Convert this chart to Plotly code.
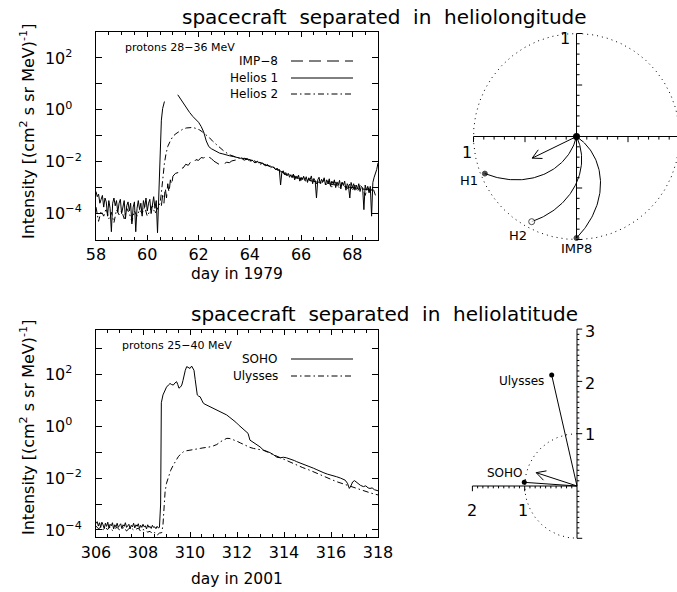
import numpy as np
import plotly.graph_objects as go

FONT = "DejaVu Sans"
W, H = 677, 592

# ------------------------------------------------------------------ data
# ---- 1979 event (protons 28-36 MeV), values are log10(intensity)
h1_bg_step = 0.05
h1_bg_start = 58.0
h1_bg_log = [-3.15, -3.35, -3.25, -3.6, -3.45, -3.3, -3.75, -3.4, -3.55, -4.1,
             -3.5, -3.8, -4.7, -3.6, -3.4, -3.7, -3.5, -3.95, -3.6, -3.45,
             -4.0, -3.65, -3.5, -4.2, -3.7, -3.55, -3.9, -3.6, -4.4, -3.75,
             -3.55, -4.7, -3.8, -3.5, -3.85, -3.6, -4.1, -3.5, -3.75, -3.4,
             -3.9, -3.6, -3.45, -4.0, -3.55, -3.35, -3.8, -3.5, -4.74]
h1_rise_day = [60.45, 60.50, 60.55, 60.60, 60.67]
h1_rise_log = [-3.2, -1.5, -0.4, 0.05, 0.32]
h1_decay_day = [61.19, 61.3, 61.4, 61.52, 61.65, 61.78, 61.9, 62.0, 62.1, 62.2, 62.3,
                62.4, 62.5, 62.6, 62.7, 62.82, 62.95, 63.1, 63.2, 63.35, 63.5, 63.6]
h1_decay_log = [0.58, 0.42, 0.25, 0.06, -0.1, -0.26, -0.38, -0.48, -0.64, -0.85, -1.2,
                -1.42, -1.5, -1.56, -1.6, -1.67, -1.7, -1.75, -1.77, -1.8, -1.84, -1.86]
h1_tail_start = 63.65
h1_tail_step = 0.05
h1_tail_log = [-1.87, -1.85, -1.9, -1.88, -1.92, -1.9, -1.95, -1.93, -1.97, -1.95,
               -2.0, -1.96, -2.02, -2.0, -2.05, -2.03, -2.08, -2.06, -2.12, -2.1,
               -2.15, -2.12, -2.18, -2.16, -2.22, -2.2, -2.25, -2.3, -2.28, -2.35,
               -2.3, -2.9, -2.4, -2.35, -2.5, -2.42, -2.55, -2.45, -2.6, -2.5,
               -2.62, -2.48, -2.7, -2.55, -2.65, -2.52, -2.75, -2.6, -2.68, -2.56,
               -2.72, -2.58, -2.8, -2.62, -2.7, -2.55, -2.85, -2.65, -2.75, -3.4,
               -2.7, -2.6, -2.85, -2.68, -2.78, -2.62, -2.9, -2.7, -2.82, -2.66,
               -2.95, -2.75, -2.85, -2.7, -3.0, -2.78, -2.9, -2.72, -3.05, -2.8,
               -2.92, -2.75, -3.1, -2.85, -2.95, -3.4, -2.8, -3.0, -2.85, -3.1,
               -2.9, -3.05, -2.85, -3.15, -2.95, -3.0, -3.85, -2.9, -3.1, -2.95,
               -3.2, -2.95, -4.1, -2.8, -2.6, -2.45, -2.3, -2.05]

h2_bg_start = 58.0
h2_bg_step = 0.1
h2_bg_log = [-3.75, -4.3, -3.9, -4.1, -3.8, -4.2, -3.95, -4.35, -3.85, -4.05,
             -3.9, -4.2, -3.8, -4.0, -4.3, -3.9, -4.1, -3.85, -4.0, -3.75,
             -4.1, -3.9, -3.7, -4.0, -3.8, -3.6]
h2_rise_day = [60.55, 60.6, 60.67, 60.73, 60.8, 60.9, 61.0, 61.12, 61.25, 61.38, 61.52,
               61.65, 61.78, 61.9, 62.03, 62.15, 62.3, 62.43, 62.56, 62.7, 62.82, 63.0,
               63.2, 63.4, 63.6]
h2_rise_log = [-3.2, -2.6, -2.05, -1.7, -1.41, -1.2, -1.02, -0.92, -0.83, -0.75, -0.7,
               -0.68, -0.68, -0.72, -0.77, -0.85, -0.96, -1.08, -1.22, -1.35, -1.47, -1.6,
               -1.73, -1.8, -1.86]
h2_tail_start = 63.7
h2_tail_step = 0.1
h2_tail_log = [-1.89, -1.94, -1.88, -1.98, -1.95, -2.05, -1.98, -2.1, -2.06, -2.16,
               -2.12, -2.24, -2.15, -2.3, -2.26, -2.42, -2.38, -2.5, -2.44, -2.58,
               -2.5, -2.66, -2.55, -2.72, -2.6, -2.8, -2.66, -2.78, -2.64, -2.86,
               -2.7, -2.84, -2.68, -2.92, -2.74, -2.98, -2.76, -2.9, -3.02, -2.8,
               -2.96, -3.08, -2.86, -3.12, -2.9, -3.15, -2.92, -3.05, -3.3, -2.96,
               -3.2, -3.0, -3.3]

imp8_day = [60.55, 60.6, 60.65, 60.7, 60.75, 60.8, 60.85, 60.9, 60.95,
            61.0, 61.1, 61.2, 61.3, 61.4, 61.5, 61.6, 61.7, 61.8, 61.9,
            62.0, 62.1, 62.2, 62.3, 62.4, 62.5, 62.6, 62.7, 62.8, 62.9,
            63.0, 63.1, 63.2, 63.3, 63.4, 63.5, 63.6, 63.7, 63.8, 63.9,
            64.0, 64.1, 64.2, 64.3, 64.4, 64.5, 64.6, 64.7, 64.8, 64.9,
            65.0, 65.1, 65.2, 65.4, 65.6, 65.8, 66.0, 66.2, 66.4, 66.6,
            66.8, 67.0, 67.2, 67.4, 67.6, 67.8, 68.0, 68.2, 68.4, 68.6, 68.8]
imp8_log = [-3.7, -3.3, -3.6, -3.0, -3.4, -2.85, -3.2, -2.7, -2.9,
            -2.56, -2.45, -2.42, -2.26, -2.24, -2.1, -2.14, -2.0, -2.04, -1.92,
            -1.95, -1.84, -1.86, -1.76, -1.82, -1.88, -1.98, -2.05, -2.1, -2.07,
            -2.08, -2.02, -2.04, -1.97, -1.94, -1.92, -1.9, -1.88, -1.87, -1.9,
            -1.92, -1.95, -1.97, -2.0, -2.03, -2.06, -2.12, -2.15, -2.2, -2.22,
            -2.28, -2.3, -2.36, -2.5, -2.55, -2.62, -2.65, -2.7, -2.72, -2.78,
            -2.8, -2.82, -2.88, -2.9, -2.95, -2.97, -3.0, -3.02, -3.05, -3.08, -3.1]

# ---- 2001 event (protons 25-40 MeV)
soho_bg_start = 306.0
soho_bg_step = 0.05
soho_bg_log = [-3.75, -3.68, -3.85, -3.72, -3.9, -3.7, -3.8, -3.95, -3.74, -3.86,
               -3.7, -3.92, -3.78, -3.84, -3.72, -3.96, -3.8, -3.88, -3.74, -3.9,
               -3.82, -3.76, -3.94, -3.8, -3.86, -3.72, -3.9, -3.84, -3.78, -3.96,
               -3.82, -3.88, -3.74, -3.92, -3.8, -3.86, -3.76, -3.94, -3.82, -3.9,
               -3.78, -3.88, -3.84, -3.96, -3.8, -3.9, -3.86, -3.94, -3.82, -3.9,
               -3.88, -3.95, -3.86, -3.92, -3.9]
soho_day = [308.75, 308.78, 308.85, 308.92, 309.0, 309.08, 309.15, 309.22, 309.29, 309.36,
            309.43, 309.48, 309.53, 309.59, 309.65, 309.7, 309.74, 309.8, 309.86, 309.93,
            310.0, 310.07, 310.12, 310.17, 310.22, 310.26, 310.31, 310.37, 310.43, 310.5,
            310.57, 310.64, 310.71, 310.8, 310.9, 310.99, 311.1, 311.2, 311.28, 311.4,
            311.56, 311.7, 311.84, 311.95, 312.06, 312.2, 312.35, 312.47, 312.55, 312.7,
            312.85, 312.98, 313.12, 313.25, 313.4, 313.55, 313.7, 313.85, 313.97, 314.1,
            314.18, 314.3, 314.45, 314.54, 314.7, 314.85, 315.0, 315.1, 315.25, 315.4,
            315.53, 315.7, 315.85, 316.0, 316.1, 316.24, 316.4, 316.5, 316.6, 316.7,
            316.78, 316.85, 316.92, 317.0, 317.05, 317.15, 317.25, 317.38, 317.48, 317.58,
            317.66, 317.75, 317.85, 318.0]
soho_log = [-3.0, 0.9, 1.2, 1.35, 1.5, 1.58, 1.64, 1.6, 1.58, 1.66,
            1.71, 1.6, 1.46, 1.5, 1.58, 1.75, 1.97, 2.15, 2.29, 2.25,
            2.22, 2.31, 2.25, 2.15, 1.8, 1.46, 1.2, 1.15, 1.13, 1.0,
            0.88, 0.84, 0.81, 0.78, 0.72, 0.68, 0.63, 0.6, 0.56, 0.5,
            0.43, 0.33, 0.24, 0.15, 0.05, -0.07, -0.18, -0.28, -0.54, -0.62,
            -0.72, -0.8, -0.92, -0.96, -1.02, -1.1, -1.2, -1.22, -1.2, -1.22,
            -1.24, -1.28, -1.33, -1.37, -1.42, -1.48, -1.53, -1.56, -1.62, -1.68,
            -1.74, -1.8, -1.85, -1.88, -1.9, -1.95, -2.0, -2.03, -2.08, -2.2,
            -2.4, -2.3, -2.15, -2.1, -2.14, -2.2, -2.28, -2.33, -2.3, -2.38,
            -2.4, -2.38, -2.45, -2.49]

uly_bg_start = 306.0
uly_bg_step = 0.1
uly_bg_log = [-3.85, -3.95, -3.9, -4.0, -3.92, -3.98, -3.88, -4.02, -3.94, -3.9,
              -4.0, -3.96, -3.9, -4.04, -3.95, -3.92, -4.0, -3.97, -3.93, -4.05,
              -3.98, -4.02, -4.08, -4.05, -4.15, -4.1, -4.2, -4.12, -4.1]
uly_day = [308.85, 308.9, 308.94, 309.0, 309.08, 309.18, 309.29, 309.4, 309.5, 309.6,
           309.72, 309.85, 310.0, 310.15, 310.3, 310.43, 310.55, 310.7, 310.85, 311.0,
           311.14, 311.3, 311.43, 311.57, 311.7, 311.85, 311.99, 312.15, 312.3, 312.45,
           312.55, 312.7, 312.85, 313.0, 313.12, 313.3, 313.5, 313.7, 313.9, 314.1,
           314.3, 314.54, 314.8, 315.1, 315.39, 315.7, 316.0, 316.24, 316.5, 316.8,
           317.09, 317.4, 317.7, 318.0]
uly_log = [-3.8, -3.0, -2.53, -2.2, -1.95, -1.7, -1.5, -1.32, -1.18, -1.08,
           -0.99, -0.95, -0.92, -0.9, -0.87, -0.86, -0.84, -0.83, -0.8, -0.76,
           -0.71, -0.6, -0.54, -0.47, -0.48, -0.52, -0.58, -0.65, -0.72, -0.78,
           -0.82, -0.86, -0.88, -0.9, -0.93, -1.0, -1.08, -1.18, -1.26, -1.34,
           -1.4, -1.5, -1.6, -1.7, -1.82, -1.95, -2.05, -2.14, -2.22, -2.32,
           -2.4, -2.5, -2.58, -2.65]

# ---- tick labels
top_x_ticks = [58, 60, 62, 64, 66, 68]
bot_x_ticks = [306, 308, 310, 312, 314, 316, 318]
top_y_minor_exps = [-5, -3, -1, 1, 3]
bot_y_minor_exps = [-3, -1, 1, 3]
labelled_exps = [-4, -2, 0, 2]

# ---- spacecraft geometry (AU)
lon_names = ["H1", "H2", "IMP8"]
lon_x = [-0.89, -0.435, 0.0]
lon_y = [-0.36, -0.827, -0.985]
lon_filled = [True, False, True]
lon_arrow_tip = [-0.43, -0.21]
spiral_wind = 1.0   # radians of winding per AU

lat_names = ["SOHO", "Ulysses"]
lat_x = [-1.008, -0.484]
lat_y = [0.07, 2.12]
lat_arrow_tip = [-0.78, 0.255]


# ------------------------------------------------------------------ helpers
def lg(vals):
    return [None if v is None else 10 ** v for v in vals]


def grid(start, step, n):
    return [round(start + step * i, 3) for i in range(n)]


def arrow_head(tip, length, half_angle_deg):
    d = np.array(tip, float)
    d = d / np.linalg.norm(d)
    xs, ys = [], []
    for s in (1, -1):
        a = np.radians(s * half_angle_deg)
        back = -d
        r = np.array([back[0] * np.cos(a) - back[1] * np.sin(a),
                      back[0] * np.sin(a) + back[1] * np.cos(a)])
        p = np.array(tip) + length * r
        xs += [tip[0], p[0], None]
        ys += [tip[1], p[1], None]
    return xs, ys


fig = go.Figure()
BLACK = "black"
DASHDOT = "6px,3px,1.5px,3px"
LONGDASH = "12px,6px"

# ----------------------------------------------------------- top-left traces
h1_x = grid(h1_bg_start, h1_bg_step, len(h1_bg_log)) + h1_rise_day + [None] + h1_decay_day + \
    grid(h1_tail_start, h1_tail_step, len(h1_tail_log))
h1_y = lg(h1_bg_log + h1_rise_log + [None] + h1_decay_log + h1_tail_log)
h2_x = grid(h2_bg_start, h2_bg_step, len(h2_bg_log)) + h2_rise_day + \
    grid(h2_tail_start, h2_tail_step, len(h2_tail_log))
h2_y = lg(h2_bg_log + h2_rise_log + h2_tail_log)

fig.add_trace(go.Scatter(x=imp8_day, y=lg(imp8_log), mode="lines", name="IMP-8",
                         line=dict(color=BLACK, width=1, dash=LONGDASH), xaxis="x", yaxis="y"))
fig.add_trace(go.Scatter(x=h2_x, y=h2_y, mode="lines", name="Helios 2",
                         line=dict(color=BLACK, width=1, dash=DASHDOT), xaxis="x", yaxis="y"))
fig.add_trace(go.Scatter(x=h1_x, y=h1_y, mode="lines", name="Helios 1", connectgaps=False,
                         line=dict(color=BLACK, width=1), xaxis="x", yaxis="y"))

# -------------------------------------------------------- bottom-left traces
soho_x = grid(soho_bg_start, soho_bg_step, len(soho_bg_log)) + soho_day
soho_y = lg(soho_bg_log + soho_log)
uly_x = grid(uly_bg_start, uly_bg_step, len(uly_bg_log)) + uly_day
uly_y = lg(uly_bg_log + uly_log)
fig.add_trace(go.Scatter(x=uly_x, y=uly_y, mode="lines", name="Ulysses",
                         line=dict(color=BLACK, width=1, dash=DASHDOT), xaxis="x2", yaxis="y2"))
fig.add_trace(go.Scatter(x=soho_x, y=soho_y, mode="lines", name="SOHO",
                         line=dict(color=BLACK, width=1), xaxis="x2", yaxis="y2"))

# ------------------------------------------------ top-right longitude diagram
ax3 = dict(xaxis="x3", yaxis="y3")
fig.add_trace(go.Scatter(x=[-1.0, 1.05, None, 0, 0], y=[0, 0, None, 1.0, -0.985], mode="lines",
                         line=dict(color=BLACK, width=1), **ax3))
tx, ty = [], []
for i in range(-10, 11):
    if i == 0:
        continue
    v = i / 10
    ln = 0.055 if i % 5 == 0 else 0.03
    tx += [0, ln, None]
    ty += [v, v, None]
    tx += [v, v, None]
    ty += [0, -ln, None]
fig.add_trace(go.Scatter(x=tx, y=ty, mode="lines", line=dict(color=BLACK, width=1), **ax3))
th = np.linspace(0, 2 * np.pi, 400)
fig.add_trace(go.Scatter(x=np.cos(th), y=np.sin(th), mode="lines",
                         line=dict(color=BLACK, width=1, dash="1px,4px"), **ax3))
for sx, sy in zip(lon_x, lon_y):
    r_sc = np.hypot(sx, sy)
    phi_sc = np.arctan2(sy, sx)
    rr = np.linspace(0, r_sc, 80)
    ph = phi_sc + spiral_wind * (r_sc - rr)
    fig.add_trace(go.Scatter(x=rr * np.cos(ph), y=rr * np.sin(ph), mode="lines",
                             line=dict(color=BLACK, width=1), **ax3))
hx, hy = arrow_head(lon_arrow_tip, 0.1, 28)
fig.add_trace(go.Scatter(x=[0, lon_arrow_tip[0], None] + hx, y=[0, lon_arrow_tip[1], None] + hy,
                         mode="lines", line=dict(color=BLACK, width=1), **ax3))
fig.add_trace(go.Scatter(x=[0], y=[0], mode="markers", marker=dict(color=BLACK, size=7), **ax3))
fig.add_trace(go.Scatter(
    x=lon_x, y=lon_y, mode="markers",
    marker=dict(size=[5 if f else 6 for f in lon_filled],
                color=[BLACK if f else "white" for f in lon_filled],
                line=dict(color=BLACK, width=1)), **ax3))

# ------------------------------------------------ bottom-right latitude diagram
ax4 = dict(xaxis="x4", yaxis="y4")
fig.add_trace(go.Scatter(x=[-2, 0, None, 0, 0], y=[0, 0, None, -1, 3], mode="lines",
                         line=dict(color=BLACK, width=1), **ax4))
tx, ty = [], []
for i in range(-10, 31):
    if i == 0:
        continue
    v = i / 10
    ln = 0.1 if i % 10 == 0 else 0.045
    tx += [0, ln, None]
    ty += [v, v, None]
for i in range(-20, 0):
    v = i / 10
    ln = 0.1 if i % 10 == 0 else 0.045
    tx += [v, v, None]
    ty += [0, -ln, None]
fig.add_trace(go.Scatter(x=tx, y=ty, mode="lines", line=dict(color=BLACK, width=1), **ax4))
th2 = np.linspace(np.pi / 2, 3 * np.pi / 2, 200)
fig.add_trace(go.Scatter(x=np.cos(th2), y=np.sin(th2), mode="lines",
                         line=dict(color=BLACK, width=1, dash="1px,4px"), **ax4))
lx, ly = [], []
for sx, sy in zip(lat_x, lat_y):
    lx += [0, sx, None]
    ly += [0, sy, None]
hx, hy = arrow_head(lat_arrow_tip, 0.2, 28)
fig.add_trace(go.Scatter(x=lx + [0, lat_arrow_tip[0], None] + hx,
                         y=ly + [0, lat_arrow_tip[1], None] + hy,
                         mode="lines", line=dict(color=BLACK, width=1), **ax4))
fig.add_trace(go.Scatter(x=lat_x, y=lat_y, mode="markers",
                         marker=dict(color=BLACK, size=5), **ax4))


# ------------------------------------------------------------------ axes
def ylabel(e):
    if e < 0:
        return "10<sup>\u2212%d</sup>" % (-e)
    return "10<sup>%d<span style='color:rgba(0,0,0,0)'>\u2212</span></sup>" % e


common = dict(showline=True, linecolor=BLACK, linewidth=1, mirror="allticks",
              ticks="inside", tickcolor=BLACK, tickwidth=1, showgrid=False, zeroline=False,
              automargin=False, tickfont=dict(family=FONT, size=16, color=BLACK))
xl, xr = 96 / W, 378 / W
fig.update_layout(
    width=W, height=H, autosize=False, margin=dict(l=0, r=0, t=0, b=0, pad=0),
    paper_bgcolor="white", plot_bgcolor="white", showlegend=False,
    font=dict(family=FONT, color=BLACK),
    xaxis=dict(domain=[xl, xr], range=[58, 69], tickvals=top_x_ticks, ticklen=5,
               minor=dict(dtick=0.5, ticklen=3, ticks="inside", tickcolor=BLACK),
               ticklabelstandoff=0, anchor="y", **common),
    yaxis=dict(domain=[1 - 239.5 / H, 1 - 32 / H], type="log", range=[-5, 3],
               tickvals=[10.0 ** e for e in labelled_exps],
               ticktext=[ylabel(e) for e in labelled_exps],
               minor=dict(tickvals=[10.0 ** e for e in top_y_minor_exps], ticklen=6,
                          ticks="inside", tickcolor=BLACK),
               ticklen=6, ticklabelstandoff=10, anchor="x", **common),
    xaxis2=dict(domain=[xl, xr], range=[306, 318], tickvals=bot_x_ticks, ticklen=5,
                minor=dict(dtick=0.5, ticklen=3, ticks="inside", tickcolor=BLACK),
                ticklabelstandoff=1, anchor="y2", **common),
    yaxis2=dict(domain=[1 - 537 / H, 1 - 330 / H], type="log", range=[-4.27, 3.7],
                tickvals=[10.0 ** e for e in labelled_exps],
                ticktext=[ylabel(e) for e in labelled_exps],
                minor=dict(tickvals=[10.0 ** e for e in bot_y_minor_exps], ticklen=6,
                           ticks="inside", tickcolor=BLACK),
                ticklen=6, ticklabelstandoff=10, anchor="x2", **common),
    xaxis3=dict(domain=[460 / W, 1.0], range=[(460 - 576.5) / 103, (677 - 576.5) / 103],
                visible=False, anchor="y3"),
    yaxis3=dict(domain=[1 - 265 / H, 1 - 15 / H], range=[(136.5 - 265) / 103, (136.5 - 15) / 103],
                visible=False, anchor="x3"),
    xaxis4=dict(domain=[440 / W, 1.0], range=[(440 - 577) / 52.3, (677 - 577) / 52.3],
                visible=False, anchor="y4"),
    yaxis4=dict(domain=[1 - 570 / H, 1 - 300 / H], range=[(486 - 570) / 52.3, (486 - 300) / 52.3],
                visible=False, anchor="x4"),
)

ann = []


def text(x, y, s, size, xanchor="center", yanchor="middle", xref="paper", yref="paper", angle=0):
    ann.append(dict(x=x, y=y, text=s, showarrow=False, xref=xref, yref=yref,
                    xanchor=xanchor, yanchor=yanchor, textangle=angle,
                    font=dict(family=FONT, size=size, color=BLACK)))


gap = "\u00a0 "
text(384 / W, 1 - 17 / H, gap.join(["spacecraft", "separated", "in", "heliolongitude"]), 20)
text(384 / W, 1 - 314 / H, gap.join(["spacecraft", "separated", "in", "heliolatitude"]), 20)
text(237 / W, 1 - 274 / H, "day in 1979", 15.5)
text(237 / W, 1 - 579 / H, "day in 2001", 15.5)
ytitle = "Intensity [(cm<sup>2</sup> s sr MeV)<sup>-1</sup>]"
text(27 / W, 1 - 132 / H, ytitle, 16, angle=-90)
text(27 / W, 1 - 428 / H, ytitle, 16, angle=-90)

# legends
text(123 / W, 1 - 47 / H, "protons 28\u221236 MeV", 11, xanchor="left")
text(120 / W, 1 - 345 / H, "protons 25\u221240 MeV", 11, xanchor="left")
legend_top = [("IMP\u22128", 61, LONGDASH), ("Helios 1", 78, "solid"), ("Helios 2", 94, DASHDOT)]
legend_bot = [("SOHO", 359, "solid"), ("Ulysses", 376, DASHDOT)]
shapes = []
for lab, ypx, dash in legend_top + legend_bot:
    text(280 / W, 1 - ypx / H, lab, 12, xanchor="right")
    shapes.append(dict(type="line", xref="paper", yref="paper", x0=291 / W, x1=353 / W,
                       y0=1 - ypx / H, y1=1 - ypx / H, line=dict(color=BLACK, width=1, dash=dash)))

# diagram labels
text(-0.11, 0.95, "1", 16, xref="x3", yref="y3")
text(-1.06, -0.16, "1", 16, xref="x3", yref="y3")
lon_label_pos = [(-1.04, -0.43), (-0.57, -0.96), (0.0, -1.09)]
for name, (lx_, ly_) in zip(lon_names, lon_label_pos):
    text(lx_, ly_, name, 13, xref="x3", yref="y3")
for lab, yv in [("3", 2.95), ("2", 1.96), ("1", 0.99)]:
    text(0.25, yv, lab, 16, xref="x4", yref="y4")
for lab, xv in [("2", -2.01), ("1", -1.03)]:
    text(xv, -0.46, lab, 16, xref="x4", yref="y4")
text(-0.6, 2.0, "Ulysses", 12, xanchor="right", xref="x4", yref="y4")
text(-1.38, 0.254, "SOHO", 12, xref="x4", yref="y4")

fig.update_layout(annotations=ann, shapes=shapes)
fig.write_html(
    "out.html",
    config={"responsive": False, "displayModeBar": False},
    post_script="document.body.style.margin='0';document.body.style.padding='0';"
                "document.documentElement.style.overflow='hidden';",
)
